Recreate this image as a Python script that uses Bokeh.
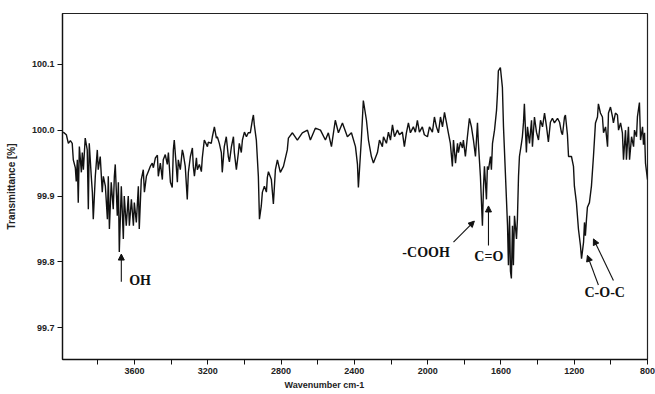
from bokeh.plotting import figure
from bokeh.models import (Range1d, FixedTicker, PrintfTickFormatter, Label, Title,
                          Arrow, NormalHead, ColumnDataSource)
from bokeh.embed import file_html
from bokeh.resources import INLINE

# ---- spectrum data (wavenumber cm-1, transmittance %) ----
wavenumber = [
    3989, 3972, 3961, 3950, 3940, 3934, 3923, 3918, 3912, 3907, 3901, 3890, 3885, 3879,
    3869, 3858, 3852, 3847, 3836, 3830, 3825, 3814, 3803, 3798, 3787, 3776, 3770, 3759,
    3748, 3743, 3737, 3727, 3716, 3710, 3705, 3694, 3688, 3683, 3672, 3661, 3656, 3645,
    3634, 3628, 3617, 3606, 3601, 3590, 3579, 3574, 3563, 3552, 3546, 3535, 3525, 3514,
    3503, 3497, 3486, 3475, 3470, 3459, 3448, 3443, 3432, 3421, 3415, 3404, 3394, 3388,
    3383, 3372, 3366, 3361, 3350, 3339, 3333, 3323, 3312, 3306, 3295, 3284, 3279, 3273,
    3262, 3257, 3246, 3235, 3230, 3219, 3202, 3197, 3181, 3175, 3164, 3153, 3148, 3137,
    3126, 3121, 3110, 3099, 3088, 3082, 3071, 3060, 3055, 3044, 3033, 3028, 3017, 3011,
    3000, 2989, 2979, 2968, 2957, 2951, 2946, 2935, 2924, 2918, 2908, 2902, 2891, 2880,
    2875, 2869, 2853, 2842, 2831, 2820, 2804, 2787, 2766, 2760, 2738, 2711, 2684, 2656,
    2640, 2613, 2585, 2558, 2542, 2525, 2504, 2487, 2465, 2438, 2416, 2394, 2383, 2378,
    2362, 2351, 2334, 2323, 2307, 2296, 2274, 2263, 2247, 2241, 2225, 2214, 2203, 2192,
    2181, 2165, 2154, 2138, 2127, 2116, 2105, 2094, 2078, 2067, 2056, 2045, 2029, 2018,
    2001, 1990, 1974, 1963, 1952, 1941, 1930, 1919, 1908, 1897, 1887, 1876, 1865, 1859,
    1848, 1837, 1832, 1821, 1810, 1805, 1794, 1783, 1772, 1761, 1750, 1739, 1728, 1723,
    1712, 1701, 1695, 1690, 1679, 1674, 1668, 1657, 1652, 1646, 1635, 1624, 1619, 1614,
    1603, 1592, 1586, 1575, 1564, 1559, 1553, 1548, 1543, 1537, 1532, 1526, 1515, 1510,
    1504, 1499, 1488, 1483, 1477, 1472, 1461, 1455, 1444, 1433, 1428, 1417, 1406, 1395,
    1384, 1373, 1362, 1351, 1341, 1330, 1319, 1308, 1291, 1280, 1270, 1264, 1253, 1248,
    1237, 1231, 1215, 1204, 1199, 1188, 1177, 1166, 1160, 1149, 1144, 1139, 1133, 1128,
    1117, 1106, 1095, 1084, 1073, 1068, 1057, 1046, 1040, 1029, 1018, 1013, 1002, 991,
    986, 975, 964, 958, 947, 937, 931, 920, 915, 904, 898, 887, 876, 871,
    860, 855, 844, 838, 827, 822, 816, 811, 800,
]
transmittance = [
    99.997, 99.993, 99.980, 99.984, 99.980, 99.955, 99.943, 99.922, 99.955, 99.890, 99.975, 99.936, 99.966, 99.940,
    99.988, 99.970, 99.880, 99.980, 99.930, 99.906, 99.865, 99.930, 99.970, 99.940, 99.960, 99.906, 99.930, 99.915,
    99.865, 99.930, 99.850, 99.921, 99.880, 99.930, 99.948, 99.870, 99.921, 99.815, 99.915, 99.835, 99.900, 99.855,
    99.900, 99.855, 99.895, 99.855, 99.890, 99.860, 99.915, 99.850, 99.925, 99.940, 99.906, 99.930, 99.937, 99.945,
    99.950, 99.943, 99.958, 99.962, 99.930, 99.950, 99.925, 99.955, 99.963, 99.948, 99.966, 99.921, 99.913, 99.970,
    99.985, 99.945, 99.921, 99.955, 99.940, 99.970, 99.963, 99.945, 99.895, 99.936, 99.960, 99.973, 99.945, 99.930,
    99.958, 99.940, 99.948, 99.937, 99.958, 99.985, 99.975, 99.982, 99.980, 99.990, 100.005, 99.988, 99.990, 99.980,
    99.966, 99.936, 99.975, 99.990, 99.960, 99.952, 99.975, 99.990, 99.966, 99.940, 99.966, 99.980, 99.966, 99.985,
    99.997, 99.990, 99.996, 99.996, 100.015, 100.023, 100.008, 99.985, 99.930, 99.865, 99.885, 99.906, 99.915, 99.906,
    99.928, 99.937, 99.925, 99.888, 99.940, 99.955, 99.936, 99.945, 99.970, 99.988, 99.996, 99.985, 99.996, 100.000,
    99.985, 100.003, 100.000, 99.985, 99.996, 99.975, 100.015, 99.996, 100.011, 99.990, 99.996, 99.975, 99.948, 99.913,
    99.985, 100.045, 100.015, 99.985, 99.960, 99.950, 99.966, 99.985, 99.975, 99.990, 99.980, 99.997, 99.985, 100.008,
    99.990, 100.000, 99.993, 99.997, 99.975, 99.996, 100.011, 99.996, 100.005, 99.997, 100.015, 99.997, 100.005, 99.993,
    99.990, 100.005, 99.997, 100.020, 100.005, 99.996, 100.020, 100.005, 100.027, 100.011, 99.996, 99.980, 99.945, 99.985,
    99.950, 99.980, 99.966, 99.982, 99.973, 99.985, 99.960, 99.990, 100.018, 100.005, 99.985, 99.960, 100.011, 99.980,
    99.930, 99.855, 99.915, 99.945, 99.895, 99.945, 99.940, 99.960, 99.940, 99.980, 100.000, 100.030, 100.055, 100.090,
    100.095, 100.065, 100.005, 99.930, 99.855, 99.795, 99.870, 99.786, 99.775, 99.855, 99.795, 99.870, 99.835, 99.865,
    99.930, 99.960, 99.980, 99.990, 100.011, 100.040, 99.966, 100.005, 99.980, 100.015, 99.975, 100.020, 99.997, 99.985,
    100.015, 100.005, 100.026, 100.005, 99.982, 100.012, 100.018, 100.011, 100.018, 100.012, 99.997, 99.993, 100.020, 100.023,
    99.993, 99.960, 99.960, 99.945, 99.915, 99.890, 99.850, 99.825, 99.805, 99.830, 99.860, 99.840, 99.865, 99.883,
    99.890, 99.915, 99.960, 100.011, 100.020, 100.040, 100.026, 100.020, 99.996, 100.005, 99.975, 100.026, 100.035, 100.020,
    100.011, 100.026, 100.023, 100.000, 100.011, 99.996, 99.955, 100.000, 99.955, 100.005, 99.955, 99.990, 99.975, 100.000,
    99.990, 100.020, 100.042, 99.985, 100.005, 99.978, 99.996, 99.950, 99.925,
]

x_major_ticks = [3600, 3200, 2800, 2400, 2000, 1600, 1200, 800]
x_minor_ticks = [3800, 3400, 3000, 2600, 2200, 1800, 1400, 1000]
y_ticks = [99.7, 99.8, 99.9, 100.0, 100.1]

# annotation texts and their anchor points (data units)
ann_texts = ["OH", "-COOH", "C=O", "C-O-C"]
ann_x = [3629, 2138, 1745, 1144]
ann_y = [99.772, 99.815, 99.808, 99.754]
# arrows: start (x0, y0) -> tip (x1, y1), data units
arr_x0 = [3672, 1859, 1668, 1068, 986]
arr_y0 = [99.770, 99.830, 99.825, 99.765, 99.772]
arr_x1 = [3672, 1745, 1668, 1128, 1095]
arr_y1 = [99.812, 99.862, 99.885, 99.810, 99.835]

p = figure(width=655, height=394, output_backend="svg", toolbar_location=None,
           x_range=Range1d(3993, 800), y_range=Range1d(99.652, 100.177),
           min_border_left=62, min_border_right=8, min_border_top=13,
           min_border_bottom=35)
p.background_fill_color = "white"
p.border_fill_color = "white"
p.outline_line_color = "#222222"
p.outline_line_width = 1.2
p.xgrid.grid_line_color = None
p.ygrid.grid_line_color = None

src = ColumnDataSource(dict(x=wavenumber, y=transmittance))
p.line("x", "y", source=src, line_color="#111111", line_width=1.4)

# axes
p.xaxis.ticker = FixedTicker(ticks=x_major_ticks, minor_ticks=x_minor_ticks)
p.yaxis.ticker = FixedTicker(ticks=y_ticks)
p.yaxis.formatter = PrintfTickFormatter(format="%.1f")
for ax in (p.xaxis[0], p.yaxis[0]):
    ax.axis_line_color = "#111111"
    ax.axis_line_width = 1.3
    ax.major_tick_line_color = "#111111"
    ax.major_tick_in = 0
    ax.major_tick_out = 5
    ax.major_label_text_font = "Liberation Sans"
    ax.major_label_text_font_size = "9px"
    ax.major_label_text_font_style = "bold"
    ax.major_label_text_color = "#222222"
    ax.major_label_standoff = 3
p.xaxis.minor_tick_in = 0
p.xaxis.minor_tick_out = 5
p.xaxis.minor_tick_line_color = "#111111"
p.yaxis.minor_tick_line_color = None

p.yaxis.axis_label = "Transmittance [%]"
p.yaxis.axis_label_text_font = "Liberation Sans"
p.yaxis.axis_label_text_font_size = "10px"
p.yaxis.axis_label_text_font_style = "bold"
p.yaxis.axis_label_text_color = "#222222"
p.yaxis.axis_label_standoff = 12

# x-axis title sits left of centre in the original
p.add_layout(Title(text="Wavenumber cm-1", align="left", offset=222,
                   text_font="Liberation Sans", text_font_size="9px",
                   text_font_style="bold", text_color="#222222",
                   standoff=3), "below")

for t, x, y in zip(ann_texts, ann_x, ann_y):
    p.add_layout(Label(x=x, y=y, text=t, text_align="left", text_baseline="middle",
                       text_font="Liberation Serif", text_font_size="14px",
                       text_font_style="bold", text_color="#111111"))

for x0, y0, x1, y1 in zip(arr_x0, arr_y0, arr_x1, arr_y1):
    p.add_layout(Arrow(x_start=x0, y_start=y0, x_end=x1, y_end=y1,
                       line_color="#111111", line_width=1.1,
                       end=NormalHead(size=6, fill_color="#111111",
                                      line_color="#111111")))

open("out.html", "w").write(file_html(p, INLINE))
